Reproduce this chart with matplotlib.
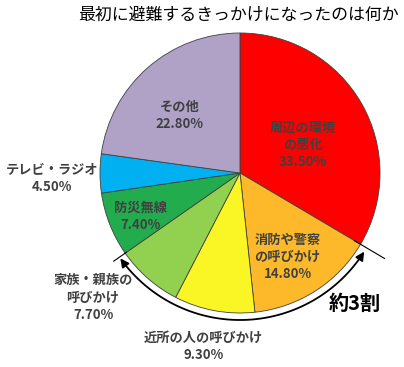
import numpy as np
import matplotlib
matplotlib.use("Agg")
import matplotlib.pyplot as plt
from matplotlib.patches import FancyArrowPatch
from matplotlib.path import Path

plt.rcParams['font.family'] = ['Noto Sans CJK JP', 'DejaVu Sans']

title = "最初に避難するきっかけになったのは何か"
categories = ["周辺の環境\nの悪化", "消防や警察\nの呼びかけ", "近所の人の呼びかけ",
              "家族・親族の\n呼びかけ", "防災無線", "テレビ・ラジオ", "その他"]
values = [33.5, 14.8, 9.3, 7.7, 7.4, 4.5, 22.8]
colors = ["#FF0000", "#FDB92A", "#FAF524", "#92D050", "#22AC4E", "#00B0F0", "#B0A2C6"]
note = "約3割"

W, H = 404, 367
cx, cy, R = 240, 173, 140  # pixel centre and radius

fig = plt.figure(figsize=(W / 100, H / 100), dpi=100)
ax = fig.add_axes([0, 0, 1, 1])

ax.pie(values, colors=colors, startangle=90, counterclock=False, radius=1.0,
       wedgeprops=dict(edgecolor='#404040', linewidth=0.6))
ax.set_aspect('auto')
ax.set_xlim(-cx / R, (W - cx) / R)
ax.set_ylim((cy - H) / R, cy / R)
ax.axis('off')

label_pos = [(0.45, 0.20), (0.34, -0.60), (-0.26, -1.24), (-1.05, -0.89),
             (-0.71, -0.31), (-1.345, -0.04), (-0.43, 0.41)]
for cat, v, (x, y) in zip(categories, values, label_pos):
    ax.text(x, y, f"{cat}\n{v:.2f}%", ha='center', va='center', fontsize=9.5,
            fontweight='bold', color='#404040', linespacing=1.3)

# boundaries of the "about 30%" span
total = sum(values)
cum = np.cumsum(values)
a_start = np.deg2rad(90 - 360 * cum[0] / total)
a_end = np.deg2rad(90 - 360 * cum[3] / total)

for a, r0, r1 in [(a_start, 0.95, 1.2), (a_end, 0.99, 1.1)]:
    ax.plot([r0 * np.cos(a), r1 * np.cos(a)], [r0 * np.sin(a), r1 * np.sin(a)],
            color='black', lw=0.8)

ra = 1.05
th = np.linspace(a_end + 0.01, a_start - 0.03, 80)
pts = np.column_stack([ra * np.cos(th), ra * np.sin(th)])
arc = FancyArrowPatch(path=Path(pts), arrowstyle='<|-|>,head_length=5,head_width=2.5',
                      color='black', lw=1.3)
ax.add_patch(arc)

ax.text(0.82, -0.93, note, ha='center', va='center', fontsize=14.5,
        fontweight='bold', color='black')

fig.text(238 / W, 1 - 15 / H, title, ha='center', va='center', fontsize=12.2,
         color='black')

fig.savefig("out.png", dpi=100)
